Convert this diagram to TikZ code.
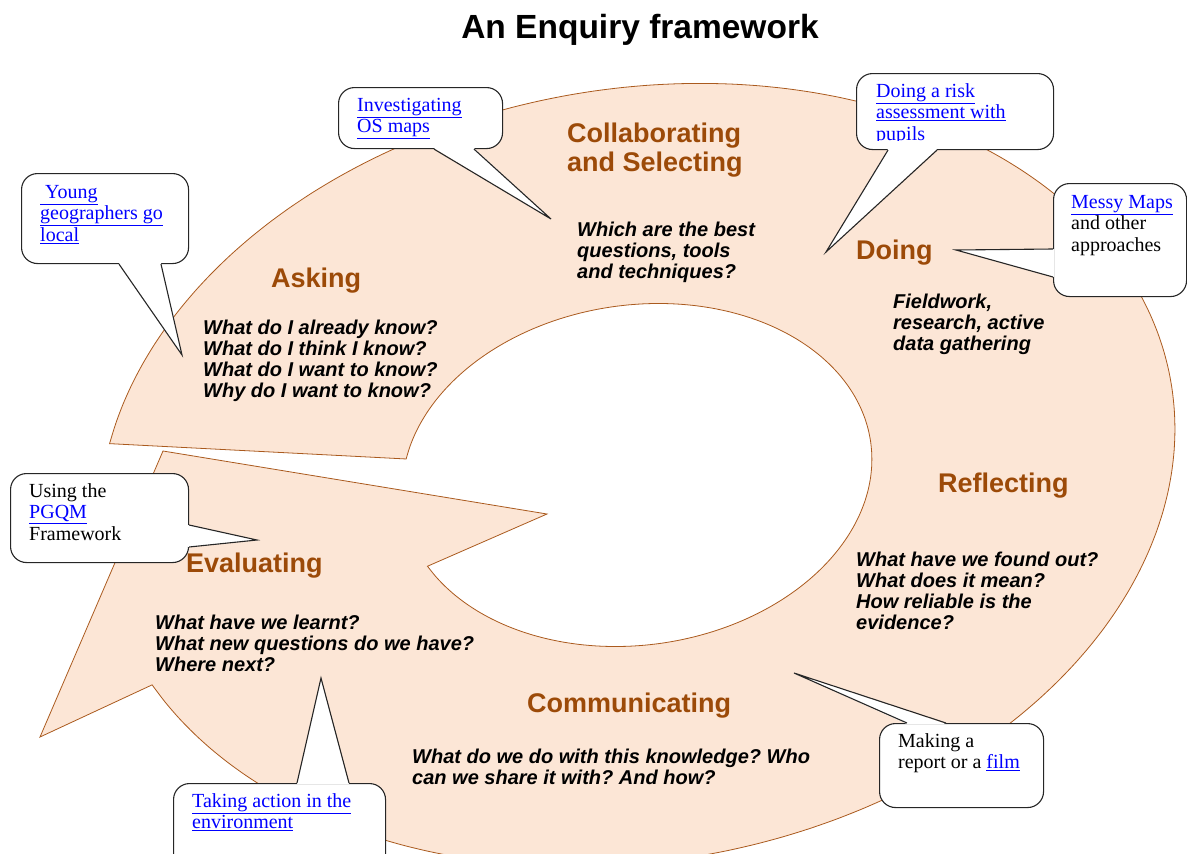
\documentclass[tikz,border=0pt]{standalone}
\usepackage{fontspec}
\setmainfont{Liberation Serif}
\setsansfont{Liberation Sans}
\usepackage{xcolor}
\usetikzlibrary{calc}
\definecolor{ringfill}{RGB}{252,230,214}
\definecolor{ringline}{RGB}{170,90,30}
\definecolor{stagebrown}{RGB}{156,74,8}
\definecolor{linkblue}{RGB}{0,0,255}
\newcommand{\lnk}[1]{\textcolor{linkblue}{\underline{#1}}}
\frenchspacing

\begin{document}
\begin{tikzpicture}[x=1pt,y=-1pt,
  stage/.style={font=\sffamily\bfseries\fontsize{27}{29}\selectfont, text=stagebrown, inner sep=0pt, anchor=base west},
  prompt/.style={font=\sffamily\bfseries\itshape\fontsize{20}{21}\selectfont, align=left, inner sep=0pt, anchor=north west, execute at begin node=\rule{0pt}{15pt}},
  callbox/.style={draw=black!85, fill=white, line width=1.1pt, rounded corners=16pt, inner sep=0pt, anchor=north west},
  calltext/.style={font=\rmfamily\fontsize{20}{21.5}\selectfont, align=left, inner sep=0pt, anchor=north west, execute at begin node=\rule{0pt}{15pt}},
  calledge/.style={draw=black!85, line width=1.1pt, line join=miter}]
  \useasboundingbox (0,0) rectangle (1187,854);
  \clip (0,0) rectangle (1187,854);

  \node[font=\sffamily\bfseries\fontsize{33.5}{36}\selectfont, inner sep=0pt, anchor=base] (title) at (640,38) {An Enquiry framework};

  % the ring with its arrow head
  \draw[draw=ringline, fill=ringfill, line width=0.8pt, line join=miter]
    plot[domain=198.5:521.5, samples=110, smooth] ({637+533.77*cos(\x)+67.03*sin(\x)}, {475-94.12*cos(\x)+380.14*sin(\x)})
    -- (40,737) -- (163,451) -- (547,514)
    -- plot[domain=0:322.5, samples=80, smooth] ({637+233.70*cos(158.9-\x)+23.66*sin(158.9-\x)}, {475-32.84*cos(158.9-\x)+168.35*sin(158.9-\x)})
    -- cycle;

  % callouts
  \node[callbox, minimum width=167pt, minimum height=90pt] (young) at (21,173) {};
  \coordinate (youngtip) at (182,355);
  \fill[white] ([shift={(98,-1)}]young.south west) -- (youngtip) -- ([shift={(140,-1)}]young.south west) -- cycle;
  \draw[calledge] ([shift={(98,0)}]young.south west) -- (youngtip) -- ([shift={(140,0)}]young.south west);

  \node[callbox, minimum width=164pt, minimum height=61pt] (osmaps) at (338,87) {};
  \coordinate (osmapstip) at (551,219);
  \fill[white] ([shift={(96,-1)}]osmaps.south west) -- (osmapstip) -- ([shift={(136,-1)}]osmaps.south west) -- cycle;
  \draw[calledge] ([shift={(96,0)}]osmaps.south west) -- (osmapstip) -- ([shift={(136,0)}]osmaps.south west);

  \node[callbox, minimum width=197pt, minimum height=76pt] (risk) at (856,73) {};
  \coordinate (risktip) at (826,252);
  \fill[white] ([shift={(32,-1)}]risk.south west) -- (risktip) -- ([shift={(81,-1)}]risk.south west) -- cycle;
  \draw[calledge] ([shift={(32,0)}]risk.south west) -- (risktip) -- ([shift={(81,0)}]risk.south west);

  \node[callbox, minimum width=133pt, minimum height=113pt] (messy) at (1053,183) {};
  \coordinate (messytip) at (956,250);
  \fill[white] ([shift={(1,66)}]messy.north west) -- (messytip) -- ([shift={(1,94)}]messy.north west) -- cycle;
  \draw[calledge] ([shift={(0,66)}]messy.north west) -- (messytip) -- ([shift={(0,94)}]messy.north west);

  \node[callbox, minimum width=178pt, minimum height=89pt] (pgqm) at (10,473) {};
  \coordinate (pgqmtip) at (257,540);
  \fill[white] ([shift={(-1,52)}]pgqm.north east) -- (pgqmtip) -- ([shift={(-1,74)}]pgqm.north east) -- cycle;
  \draw[calledge] ([shift={(0,52)}]pgqm.north east) -- (pgqmtip) -- ([shift={(0,74)}]pgqm.north east);

  \node[callbox, minimum width=212pt, minimum height=95pt] (action) at (173,783) {};
  \coordinate (actiontip) at (321,678);
  \fill[white] ([shift={(124,1)}]action.north west) -- (actiontip) -- ([shift={(176,1)}]action.north west) -- cycle;
  \draw[calledge] ([shift={(124,0)}]action.north west) -- (actiontip) -- ([shift={(176,0)}]action.north west);

  \node[callbox, minimum width=164pt, minimum height=84pt] (film) at (879,723) {};
  \coordinate (filmtip) at (794,673);
  \fill[white] ([shift={(28,1)}]film.north west) -- (filmtip) -- ([shift={(67,1)}]film.north west) -- cycle;
  \draw[calledge] ([shift={(28,0)}]film.north west) -- (filmtip) -- ([shift={(67,0)}]film.north west);

  \node[calltext] (youngtext) at (40,185) {\lnk{\ Young}\\\lnk{geographers go}\\\lnk{local}};
  \node[calltext] (osmapstext) at (357,98) {\lnk{Investigating}\\\lnk{OS maps}};
  \begin{scope}
    \clip (856,73) rectangle (1053,140);
    \node[calltext] (risktext) at (876,83) {\lnk{Doing a risk}\\\lnk{assessment with}\\\lnk{pupils}};
  \end{scope}
  \node[calltext] (messytext) at (1071,195) {\lnk{Messy Maps}\\and other\\approaches};
  \node[calltext] (pgqmtext) at (29,483) {Using the\\\lnk{PGQM}\\Framework};
  \node[calltext] (actiontext) at (192,793) {\lnk{Taking action in the}\\\lnk{environment}};
  \node[calltext] (filmtext) at (898,733) {Making a\\report or a \lnk{film}};

  % stages
  \node[stage, align=left, anchor=north west, execute at begin node=\rule{0pt}{20pt}] (collab) at (567,123) {Collaborating\\and Selecting};
  \node[stage] (asking) at (271,287) {Asking};
  \node[stage] (doing) at (856,259) {Doing};
  \node[stage] (reflecting) at (938,492) {Reflecting};
  \node[stage] (evaluating) at (186,572) {Evaluating};
  \node[stage] (communicating) at (527,712) {Communicating};

  \node[prompt] (collabq) at (577,222) {Which are the best\\questions, tools\\and techniques?};
  \node[prompt] (askingq) at (203,320) {What do I already know?\\What do I think I know?\\What do I want to know?\\Why do I want to know?};
  \node[prompt] (doingq) at (893,294) {Fieldwork,\\research, active\\data gathering};
  \node[prompt] (reflectingq) at (856,552) {What have we found out?\\What does it mean?\\How reliable is the\\evidence?};
  \node[prompt] (evaluatingq) at (155,615) {What have we learnt?\\What new questions do we have?\\Where next?};
  \node[prompt] (communicatingq) at (412,749) {What do we do with this knowledge? Who\\can we share it with? And how?};
\end{tikzpicture}
\end{document}
